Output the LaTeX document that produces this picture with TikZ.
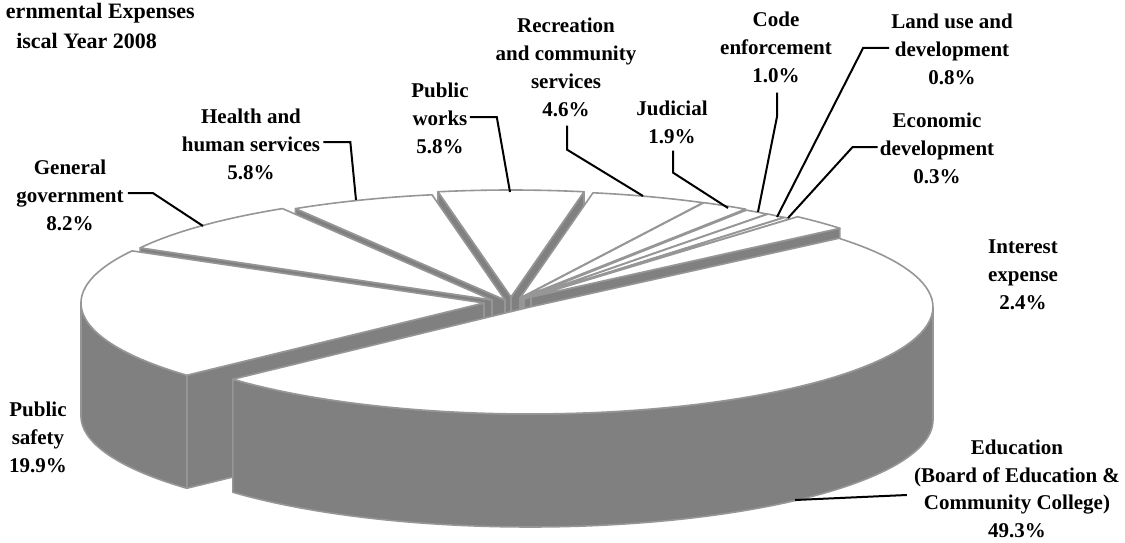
\documentclass[tikz,border=0pt]{standalone}
\usepackage{fontspec}
\setmainfont{Liberation Serif}
\usetikzlibrary{calc}
\definecolor{pieline}{RGB}{150,150,150}
\definecolor{pieside}{RGB}{128,128,128}
\newcommand\pieA{403}
\newcommand\pieB{107}
\newcommand\pieH{113}
\newcommand\pietop[4]{%
  \filldraw[topface] (#1,#2) -- plot[domain=#3:#4,samples=80] ({#1+\pieA*cos(\x)},{#2-\pieB*sin(\x)}) -- cycle;}
\newcommand\pierad[3]{%
  \filldraw[sideface] (#1,#2) -- ({#1+\pieA*cos(#3)},{#2-\pieB*sin(#3)}) -- ({#1+\pieA*cos(#3)},{#2-\pieB*sin(#3)+\pieH}) -- (#1,{#2+\pieH}) -- cycle;}
\newcommand\pieout[4]{%
  \filldraw[sideface] plot[domain=#3:#4,samples=80] ({#1+\pieA*cos(\x)},{#2-\pieB*sin(\x)}) -- plot[domain=#4:#3,samples=80] ({#1+\pieA*cos(\x)},{#2-\pieB*sin(\x)+\pieH}) -- cycle;}
\begin{document}
\begin{tikzpicture}[x=1pt,y=1pt,yscale=-1,
  topface/.style={fill=white,draw=pieline,line width=1.6pt,line join=round},
  sideface/.style={fill=pieside,draw=pieline,line width=1.6pt,line join=round},
  lab/.style={font=\fontsize{21}{28}\selectfont\bfseries,align=center,inner sep=0pt},
  edulab/.style={font=\fontsize{21}{27.5}\selectfont\bfseries,align=center,inner sep=0pt},
  titl/.style={font=\fontsize{22}{30}\selectfont\bfseries,inner sep=0pt},
  lead/.style={draw=black,line width=2pt}]
\useasboundingbox (0,0) rectangle (1125,543);
% Public works
\pierad{511}{297}{79.56}
\pierad{511}{297}{100.44}
\pietop{511}{297}{79.56}{100.44}
% Recreation
\pierad{520}{298}{63.0}
\pietop{520}{298}{63.0}{79.56}
% Health
\pierad{505}{300}{121.32}
\pietop{505}{300}{100.44}{121.32}
% Judicial
\pierad{521}{298}{56.16}
\pietop{521}{298}{56.16}{63.0}
% Code enforcement
\pierad{522}{299}{52.56}
\pietop{522}{299}{52.56}{56.16}
% Land use
\pierad{523}{299}{49.68}
\pietop{523}{299}{49.68}{52.56}
% Economic development
\pierad{524}{299}{48.6}
\pietop{524}{299}{48.6}{49.68}
% Interest
\pierad{531}{297}{39.96}
\pietop{531}{297}{39.96}{48.6}
% General government
\pierad{492}{300}{150.84}
\pietop{492}{300}{121.32}{150.84}
% Public safety
\pierad{484}{303}{222.48}
\pieout{484}{303}{180}{222.48}
\pietop{484}{303}{150.84}{222.48}
% Education
\pieout{530}{307}{222.48}{360}
\pietop{530}{307}{222.48}{399.96}

\node[titl,anchor=base east] (title1) at (195,19) {ernmental Expenses};
\node[titl,anchor=base east] (title2) at (157,49) {iscal Year 2008};
\node[lab] (gg) at (70,195) {General\\government\\8.2\%};
\node[lab] (hl) at (251,144) {Health and\\human services\\5.8\%};
\node[lab] (pw) at (440,118) {Public\\works\\5.8\%};
\node[lab] (rec) at (566,67) {Recreation\\and community\\services\\4.6\%};
\node[lab] (jud) at (672,122) {Judicial\\1.9\%};
\node[lab] (code) at (776,47) {Code\\enforcement\\1.0\%};
\node[lab] (land) at (952,49) {Land use and\\development\\0.8\%};
\node[lab] (econ) at (937,148) {Economic\\development\\0.3\%};
\node[lab] (int) at (1023,275) {Interest\\expense\\2.4\%};
\node[edulab] (edu) at (1017,489) {Education\\(Board of Education \&\\Community College)\\49.3\%};
\node[lab] (ps) at (38,437) {Public\\safety\\19.9\%};

\coordinate (ggpt) at (203,226);
\coordinate (hlpt) at (356,200);
\coordinate (pwpt) at (510,192);
\coordinate (recpt) at (643,196);
\coordinate (judpt) at (728,208);
\coordinate (codept) at (758,212);
\coordinate (landpt) at (777,217);
\coordinate (econpt) at (788,218);
\coordinate (edupt) at (795,500);
\draw[lead] ($(gg.east)+(4,-2)$) -- ++(25,0) -- (ggpt);
\draw[lead] ($(hl.east)+(3,-2)$) -- ++(27,0) -- (hlpt);
\draw[lead] ($(pw.east)+(1,-1)$) -- ++(27,0) -- (pwpt);
\draw[lead] ($(rec.south)+(1,9)$) -- ++(0,24) -- (recpt);
\draw[lead] ($(jud.south)+(1,7)$) -- ++(0,22) -- (judpt);
\draw[lead] ($(code.south)+(1,10)$) -- ++(0,24) -- (codept);
\draw[lead] ($(land.west)+(-2,-1)$) -- ++(-26,0) -- (landpt);
\draw[lead] ($(econ.west)+(-2,-1)$) -- ++(-25,0) -- (econpt);
\draw[lead] (edupt) -- ($(edu.west)+(-7,6)$);
\end{tikzpicture}
\end{document}
